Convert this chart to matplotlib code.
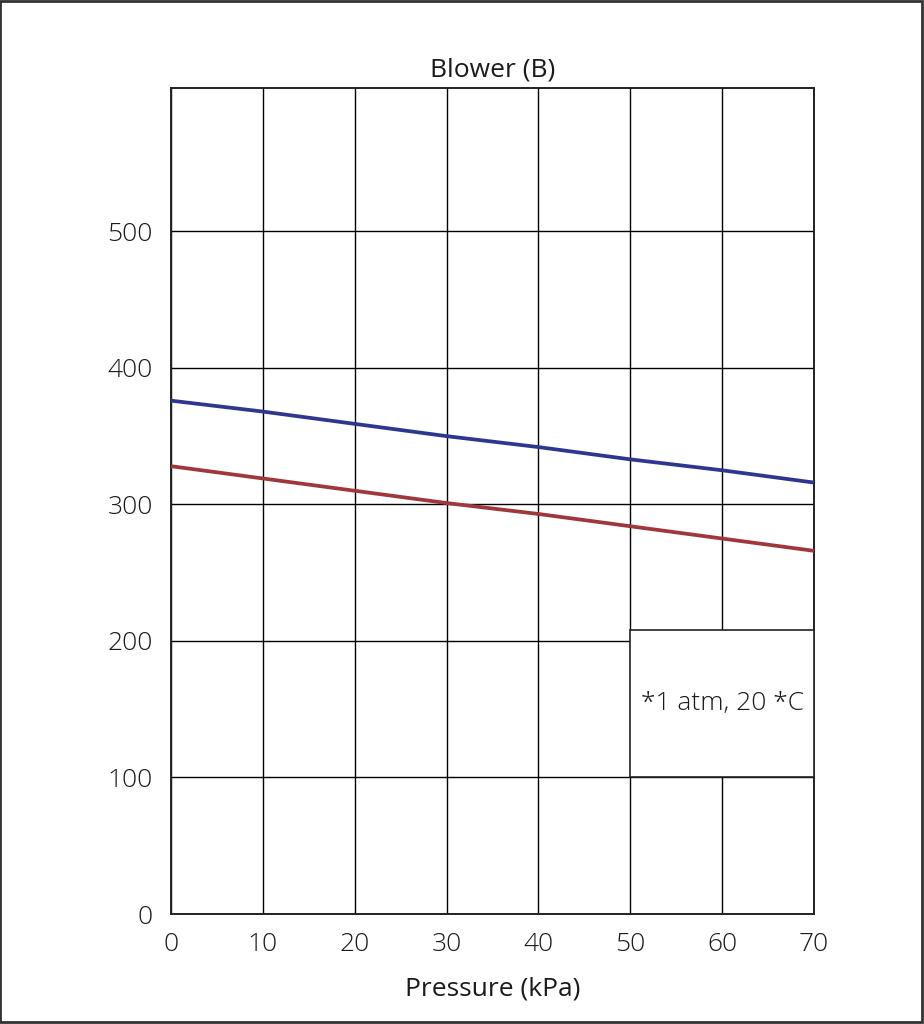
import numpy as np
import matplotlib
matplotlib.use('Agg')
import matplotlib.pyplot as plt
from matplotlib.patches import Rectangle

plt.rcParams['font.family'] = ['Open Sans', 'DejaVu Sans']
plt.rcParams['font.weight'] = 'light'

# data
pressure = [0, 10, 20, 30, 40, 50, 60, 70]
blue_vals = [376, 368, 359, 350, 342, 333, 325, 316]
red_vals = [328, 319, 310, 301, 293, 284, 275, 266]
x_ticks = [0, 10, 20, 30, 40, 50, 60, 70]
y_ticks = [0, 100, 200, 300, 400, 500]
y_top = 605
note_box = (50, 100, 20, 108)   # x, y, width, height in data units
note_text = '*1 atm, 20 *C'

txt = '#1a1a1a'
fs = 19

fig = plt.figure(figsize=(9.24, 10.24), dpi=100)
ax = fig.add_axes([171/924, 1 - 914/1024, (814-171)/924, (914-88)/1024])

ax.plot(pressure, blue_vals, color='#2e3790', lw=2.7, zorder=3, solid_capstyle='butt')
ax.plot(pressure, red_vals, color='#a0373a', lw=2.7, zorder=3, solid_capstyle='butt')

ax.set_xlim(0, 70)
ax.set_ylim(0, y_top)
ax.set_xticks(x_ticks)
ax.set_yticks(y_ticks)
ax.grid(True, color='black', lw=1.0, zorder=1)
ax.tick_params(length=0, labelsize=fs, colors=txt)
ax.tick_params(axis='x', pad=13)
ax.tick_params(axis='y', pad=13)
for s in ax.spines.values():
    s.set_color('#222222')
    s.set_linewidth(1.4)

bx, by, bw, bh = note_box
ax.add_patch(Rectangle((bx, by), bw, bh, facecolor='white', edgecolor='#222222',
                       lw=1.2, zorder=4))
ax.text(bx + bw/2, by + bh/2, note_text, ha='center', va='center',
        fontsize=fs, color=txt, zorder=5)

ax.set_title('Blower (B)', fontsize=fs, color=txt, pad=8)
ax.set_xlabel('Pressure (kPa)', fontsize=fs, color=txt, labelpad=14)

# outer frame of the picture
fig.patches.append(Rectangle((0.0, 0.002), 0.998, 0.997, transform=fig.transFigure,
                             fill=False, edgecolor='#333333', lw=2))

fig.savefig('out.png', dpi=100, facecolor='white')
